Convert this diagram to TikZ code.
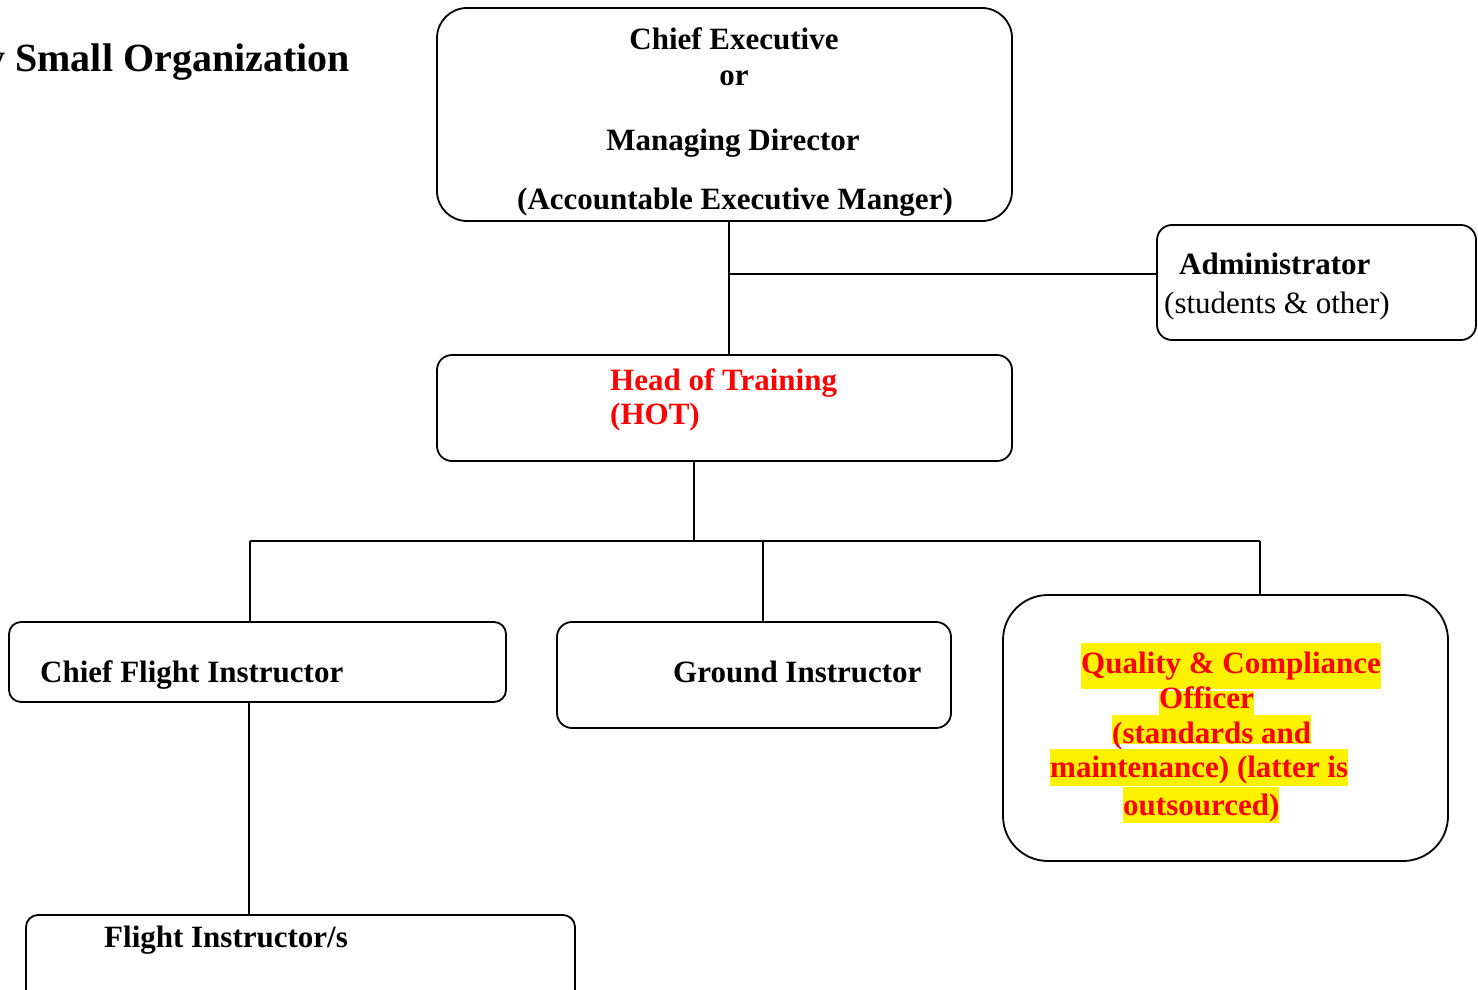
\documentclass[tikz,border=0pt]{standalone}
\usepackage{fontspec}
\setmainfont{Liberation Serif}
\begin{document}
\begin{tikzpicture}[x=1pt, y=-1pt,
    box/.style={draw, line width=1.8pt, rectangle, inner sep=0pt},
    lbl/.style={anchor=base west, inner sep=0pt, font=\fontsize{31}{36}\selectfont\bfseries},
    hl/.style={anchor=base west, inner xsep=0pt, inner ysep=0pt, text height=24pt, text depth=9pt,
        fill=yellow, text=red, font=\fontsize{31}{36}\selectfont\bfseries}]
    \clip (0,0) rectangle (1478,990);
    \fill[white] (0,0) rectangle (1478,990);
    % title
    \node [anchor=base east, inner sep=0pt, font=\fontsize{40}{46}\selectfont\bfseries] (title) at (350,72) {y Small Organization};
    % boxes
    \node [box, rounded corners=30pt, minimum width=575pt, minimum height=213pt] (ce) at (724.5,114.5) {};
    \node [box, rounded corners=15pt, minimum width=319pt, minimum height=115pt] (admin) at (1316.5,282.5) {};
    \node [box, rounded corners=15pt, minimum width=575pt, minimum height=106pt] (hot) at (724.5,408) {};
    \node [box, rounded corners=12pt, minimum width=497pt, minimum height=80pt] (cfi) at (257.5,662) {};
    \node [box, rounded corners=15pt, minimum width=394pt, minimum height=106pt] (gi) at (754,675) {};
    \node [box, rounded corners=45pt, minimum width=445pt, minimum height=266pt] (qco) at (1225.5,728) {};
    \node [box, rounded corners=12pt, minimum width=549pt, minimum height=110pt] (fi) at (300.5,970) {};
    % texts
    \node [lbl, anchor=base] at (734,49) {Chief Executive};
    \node [lbl, anchor=base] at (734,85) {or};
    \node [lbl, anchor=base] at (733,150) {Managing Director};
    \node [lbl, anchor=base] at (735,209) {(Accountable Executive Manger)};
    \node [lbl] at (1179,274) {Administrator};
    \node [lbl, font=\fontsize{31}{36}\selectfont] at (1164,313) {(students \& other)};
    \node [lbl, text=red] at (610,390) {Head of Training};
    \node [lbl, text=red] at (610,424) {(HOT)};
    \node [lbl] at (40,682) {Chief Flight Instructor};
    \node [lbl] at (673,682) {Ground Instructor};
    \node [lbl] at (104,947) {Flight Instructor/s};
    \node [hl, text height=30pt, text depth=16pt] at (1081,673) {Quality \& Compliance};
    \node [hl, text height=17pt, text depth=7pt] at (1159,708) {Officer};
    \node [hl, text height=28pt, text depth=1pt] at (1112,743) {(standards and};
    \node [hl, text height=28pt, text depth=9pt] at (1050,777) {maintenance) (latter is};
    \node [hl, text height=28pt, text depth=8pt] at (1123,815) {outsourced)};
    % connectors
    \coordinate (trunk) at (729,274);
    \coordinate (bus) at (694,541);
    \coordinate (busL) at (250,541);
    \coordinate (busM) at (763,541);
    \coordinate (busR) at (1260,541);
    \coordinate (drop) at (249,702);
    \draw[line width=1.8pt] (ce.south -| trunk) -- (hot.north -| trunk);
    \draw[line width=1.8pt] (trunk) -- (admin.west |- trunk);
    \draw[line width=1.8pt] (hot.south -| bus) -- (bus);
    \draw[line width=1.8pt] (busL) -- (busR);
    \draw[line width=1.8pt] (busL) -- (cfi.north -| busL);
    \draw[line width=1.8pt] (busM) -- (gi.north -| busM);
    \draw[line width=1.8pt] (busR) -- (qco.north -| busR);
    \draw[line width=1.8pt] (cfi.south -| drop) -- (fi.north -| drop);
\end{tikzpicture}
\end{document}
